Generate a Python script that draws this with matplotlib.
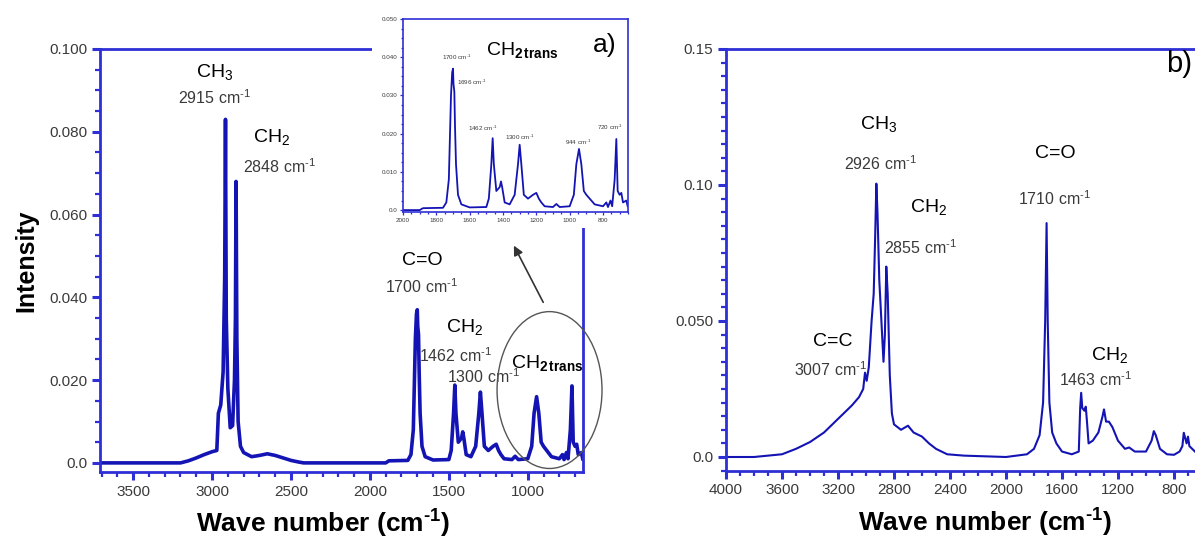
import matplotlib
matplotlib.use('Agg')
import matplotlib.pyplot as plt
from matplotlib.patches import Ellipse, Rectangle
from matplotlib.ticker import MultipleLocator, FixedLocator, FixedFormatter

plt.rcParams['font.family'] = ['Liberation Sans', 'DejaVu Sans']
plt.rcParams['mathtext.fontset'] = 'custom'
plt.rcParams['mathtext.rm'] = 'Liberation Sans'
plt.rcParams['mathtext.bf'] = 'Liberation Sans:bold'
plt.rcParams['mathtext.it'] = 'Liberation Sans:italic'
plt.rcParams['mathtext.default'] = 'regular'

# Espectro a): numero de onda (cm-1) e intensidad
wave_a = [3710, 3200, 3150, 3100, 3050, 3000, 2970, 2960, 2945, 2930, 2920, 2915, 2910,
          2900, 2885, 2870, 2858, 2852, 2848, 2843, 2835, 2820, 2800, 2750, 2700, 2650,
          2600, 2550, 2500, 2450, 2420, 1900, 1880, 1760, 1740, 1725, 1712, 1705, 1700,
          1697, 1692, 1688, 1682, 1670, 1650, 1600, 1500, 1485, 1470, 1462, 1455, 1440,
          1420, 1412, 1405, 1390, 1360, 1330, 1310, 1300, 1290, 1275, 1250, 1220, 1200,
          1185, 1170, 1150, 1100, 1080, 1060, 1000, 975, 960, 944, 930, 915, 900, 880,
          850, 800, 780, 770, 755, 745, 730, 720, 712, 700, 690, 680, 660, 652]
int_a = [0.0, 0.0, 0.0005, 0.0012, 0.002, 0.0027, 0.003, 0.012, 0.014, 0.022, 0.045, 0.083, 0.035,
         0.018, 0.0085, 0.009, 0.02, 0.035, 0.068, 0.03, 0.01, 0.004, 0.0025, 0.0015, 0.0018, 0.0022,
         0.0018, 0.0012, 0.0006, 0.0002, 0.0, 0.0, 0.0005, 0.0006, 0.002, 0.008, 0.030, 0.036, 0.037,
         0.033, 0.031, 0.022, 0.012, 0.004, 0.0015, 0.0007, 0.0008, 0.003, 0.012, 0.0188, 0.012, 0.005,
         0.006, 0.0075, 0.006, 0.002, 0.0015, 0.004, 0.012, 0.0171, 0.012, 0.004, 0.003, 0.004, 0.0045,
         0.003, 0.002, 0.001, 0.0008, 0.0016, 0.0008, 0.001, 0.004, 0.012, 0.016, 0.012, 0.005, 0.004, 0.003,
         0.0015, 0.001, 0.002, 0.0008, 0.0025, 0.001, 0.008, 0.0186, 0.005, 0.004, 0.0045, 0.002, 0.0025, 0.001]

# Espectro b)
wave_b = [4000, 3800, 3600, 3500, 3400, 3300, 3200, 3100, 3050, 3020, 3007, 2995, 2980,
          2960, 2945, 2935, 2926, 2918, 2905, 2890, 2875, 2865, 2855, 2845, 2830, 2815,
          2800, 2750, 2700, 2660, 2600, 2550, 2500, 2420, 2300, 2000, 1850, 1800, 1760,
          1735, 1720, 1710, 1702, 1690, 1670, 1640, 1600, 1530, 1480, 1470, 1463, 1455,
          1440, 1430, 1420, 1410, 1380, 1340, 1310, 1300, 1285, 1265, 1240, 1200, 1150,
          1120, 1080, 1000, 960, 944, 930, 900, 850, 800, 760, 740, 730, 720, 710, 700,
          690, 670, 650]
int_b = [0.0, 0.0, 0.001, 0.003, 0.0055, 0.009, 0.014, 0.019, 0.022, 0.025, 0.031, 0.028, 0.033,
         0.05, 0.06, 0.08, 0.1005, 0.09, 0.065, 0.05, 0.035, 0.045, 0.070, 0.06, 0.03, 0.016,
         0.012, 0.010, 0.0115, 0.009, 0.0075, 0.005, 0.003, 0.001, 0.0005, 0.0, 0.001, 0.003, 0.008,
         0.02, 0.05, 0.086, 0.05, 0.02, 0.009, 0.005, 0.002, 0.001, 0.002, 0.018, 0.0236, 0.018,
         0.017, 0.0185, 0.012, 0.005, 0.006, 0.009, 0.015, 0.0175, 0.013, 0.013, 0.011, 0.006, 0.003,
         0.0035, 0.002, 0.002, 0.006, 0.0095, 0.008, 0.003, 0.001, 0.0008, 0.002, 0.004, 0.0089, 0.007,
         0.005, 0.0075, 0.004, 0.003, 0.002]

# Etiquetas de ejes
ticks_a = [3500, 3000, 2500, 2000, 1500, 1000]
yticks_a = [0.0, 0.02, 0.04, 0.06, 0.08, 0.10]
ylabels_a = ['0.0', '0.020', '0.040', '0.060', '0.080', '0.100']
ticks_inset = [2000, 1800, 1600, 1400, 1200, 1000, 800]
yticks_inset = [0.0, 0.01, 0.02, 0.03, 0.04, 0.05]
ylabels_inset = ['0.0', '0.010', '0.020', '0.030', '0.040', '0.050']
ticks_b = [4000, 3600, 3200, 2800, 2400, 2000, 1600, 1200, 800]
yticks_b = [0.0, 0.05, 0.10, 0.15]
ylabels_b = ['0.0', '0.050', '0.10', '0.15']

spine_col = '#2f2fd6'
line_col = '#1414b4'
lab_col = '#3a3a3a'
CM = ' cm$^{\u20101}$'
XLAB = 'Wave number (cm$^{\u20101}$)'
TRANS = 'CH$_{\\mathbf{2\\,trans}}$'

W, H = 1195, 540
fig = plt.figure(figsize=(W / 100, H / 100), dpi=100)


def px_axes(l, t, r, b):
    return [l / W, 1 - b / H, (r - l) / W, (b - t) / H]


def style_axes(ax, size=11, major_len=6, minor_len=3.5):
    for s in ax.spines.values():
        s.set_color(spine_col)
        s.set_linewidth(2)
    ax.tick_params(which='both', direction='out', color=spine_col, labelcolor=lab_col,
                   labelsize=size, pad=3)
    ax.tick_params(which='major', length=major_len, width=2.2)
    ax.tick_params(which='minor', length=minor_len, width=1.6)


# Panel a) principal
ax1 = fig.add_axes(px_axes(100, 49, 583, 472))
ax1.plot(wave_a, int_a, color=line_col, lw=2.6)
ax1.set_xlim(3710, 650)
ax1.set_ylim(-0.0022, 0.1)
ax1.xaxis.set_major_locator(FixedLocator(ticks_a))
ax1.xaxis.set_minor_locator(MultipleLocator(100))
ax1.yaxis.set_major_locator(FixedLocator(yticks_a))
ax1.yaxis.set_major_formatter(FixedFormatter(ylabels_a))
ax1.yaxis.set_minor_locator(MultipleLocator(0.005))
style_axes(ax1)
ax1.set_ylabel('Intensity', fontsize=18, fontweight='bold', labelpad=8)
ax1.set_xlabel(XLAB, fontsize=19, fontweight='bold')
ax1.xaxis.set_label_coords(0.462, -0.085)

big = dict(fontsize=14, ha='center', va='center', color='black')
small = dict(fontsize=11.5, ha='center', va='center', color=lab_col)
ax1.text(2982, 0.0944, 'CH$_3$', **big)
ax1.text(2982, 0.0882, '2915' + CM, **small)
ax1.text(2621, 0.0787, 'CH$_2$', **big)
ax1.text(2571, 0.0715, '2848' + CM, **small)
ax1.text(1666, 0.049, 'C=O', **big)
ax1.text(1672, 0.0425, '1700' + CM, **small)
ax1.text(1400, 0.0329, 'CH$_2$', **big)
ax1.text(1457, 0.0258, '1462' + CM, **small)
ax1.text(1280, 0.0208, '1300' + CM, **small)
ax1.text(875, 0.0242, TRANS, **big)
ax1.add_patch(Ellipse((862, 0.0176), 665, 0.0379, fill=False, edgecolor='#555555',
                      lw=1.0, clip_on=False, zorder=4))
ax1.annotate('', xy=(1096, 0.0531), xytext=(894, 0.0382),
             arrowprops=dict(arrowstyle='-|>', color='#333333', lw=1.2, mutation_scale=14),
             annotation_clip=False)

# Fondo blanco detras del recuadro
fig.patches.append(Rectangle((372 / W, 1 - 228 / H), (645 - 372) / W, 228 / H,
                             transform=fig.transFigure, facecolor='white',
                             edgecolor='none', zorder=2))

# Recuadro a)
ax_in = fig.add_axes(px_axes(403, 19, 628, 212), zorder=3)
ax_in.plot(wave_a, int_a, color=line_col, lw=1.3)
ax_in.set_xlim(2000, 650)
ax_in.set_ylim(-0.0005, 0.05)
ax_in.xaxis.set_major_locator(FixedLocator(ticks_inset))
ax_in.xaxis.set_minor_locator(MultipleLocator(50))
ax_in.yaxis.set_major_locator(FixedLocator(yticks_inset))
ax_in.yaxis.set_major_formatter(FixedFormatter(ylabels_inset))
ax_in.yaxis.set_minor_locator(MultipleLocator(0.0025))
style_axes(ax_in, size=4.5, major_len=2.5, minor_len=1.5)
for s in ax_in.spines.values():
    s.set_linewidth(1.2)
ax_in.tick_params(which='both', width=0.9, pad=1.5)

tiny = dict(fontsize=4.5, ha='center', va='center', color=lab_col)
ax_in.text(1286, 0.0419, TRANS, fontsize=14, ha='center', va='center')
ax_in.text(788, 0.0432, 'a)', fontsize=19, ha='center', va='center')
ax_in.text(1676, 0.040, '1700' + CM, **tiny)
ax_in.text(1586, 0.0335, '1696' + CM, **tiny)
ax_in.text(1520, 0.0215, '1462' + CM, **tiny)
ax_in.text(1298, 0.0191, '1300' + CM, **tiny)
ax_in.text(950, 0.0178, '944' + CM, **tiny)
ax_in.text(758, 0.0217, '720' + CM, **tiny)

# Panel b)
ax2 = fig.add_axes(px_axes(726, 49, 1215, 471))
ax2.plot(wave_b, int_b, color=line_col, lw=1.5)
ax2.set_xlim(4000, 507)
ax2.set_ylim(-0.00515, 0.15)
ax2.xaxis.set_major_locator(FixedLocator(ticks_b))
ax2.xaxis.set_minor_locator(MultipleLocator(100))
ax2.yaxis.set_major_locator(FixedLocator(yticks_b))
ax2.yaxis.set_major_formatter(FixedFormatter(ylabels_b))
ax2.yaxis.set_minor_locator(MultipleLocator(0.005))
style_axes(ax2)
ax2.set_xlabel(XLAB, fontsize=19, fontweight='bold')
ax2.xaxis.set_label_coords((985 - 726) / (1215 - 726), -0.085)

ax2.text(764, 0.1445, 'b)', fontsize=21, ha='center', va='center')
ax2.text(2907, 0.1224, 'CH$_3$', **big)
ax2.text(2893, 0.1077, '2926' + CM, **small)
ax2.text(2550, 0.0919, 'CH$_2$', **big)
ax2.text(2614, 0.0768, '2855' + CM, **small)
ax2.text(1650, 0.1114, 'C=O', **big)
ax2.text(1650, 0.0949, '1710' + CM, **small)
ax2.text(3236, 0.0423, 'C=C', **big)
ax2.text(3257, 0.032, '3007' + CM, **small)
ax2.text(1257, 0.0375, 'CH$_2$', **big)
ax2.text(1357, 0.0283, '1463' + CM, **small)

fig.savefig('out.png', dpi=100)
